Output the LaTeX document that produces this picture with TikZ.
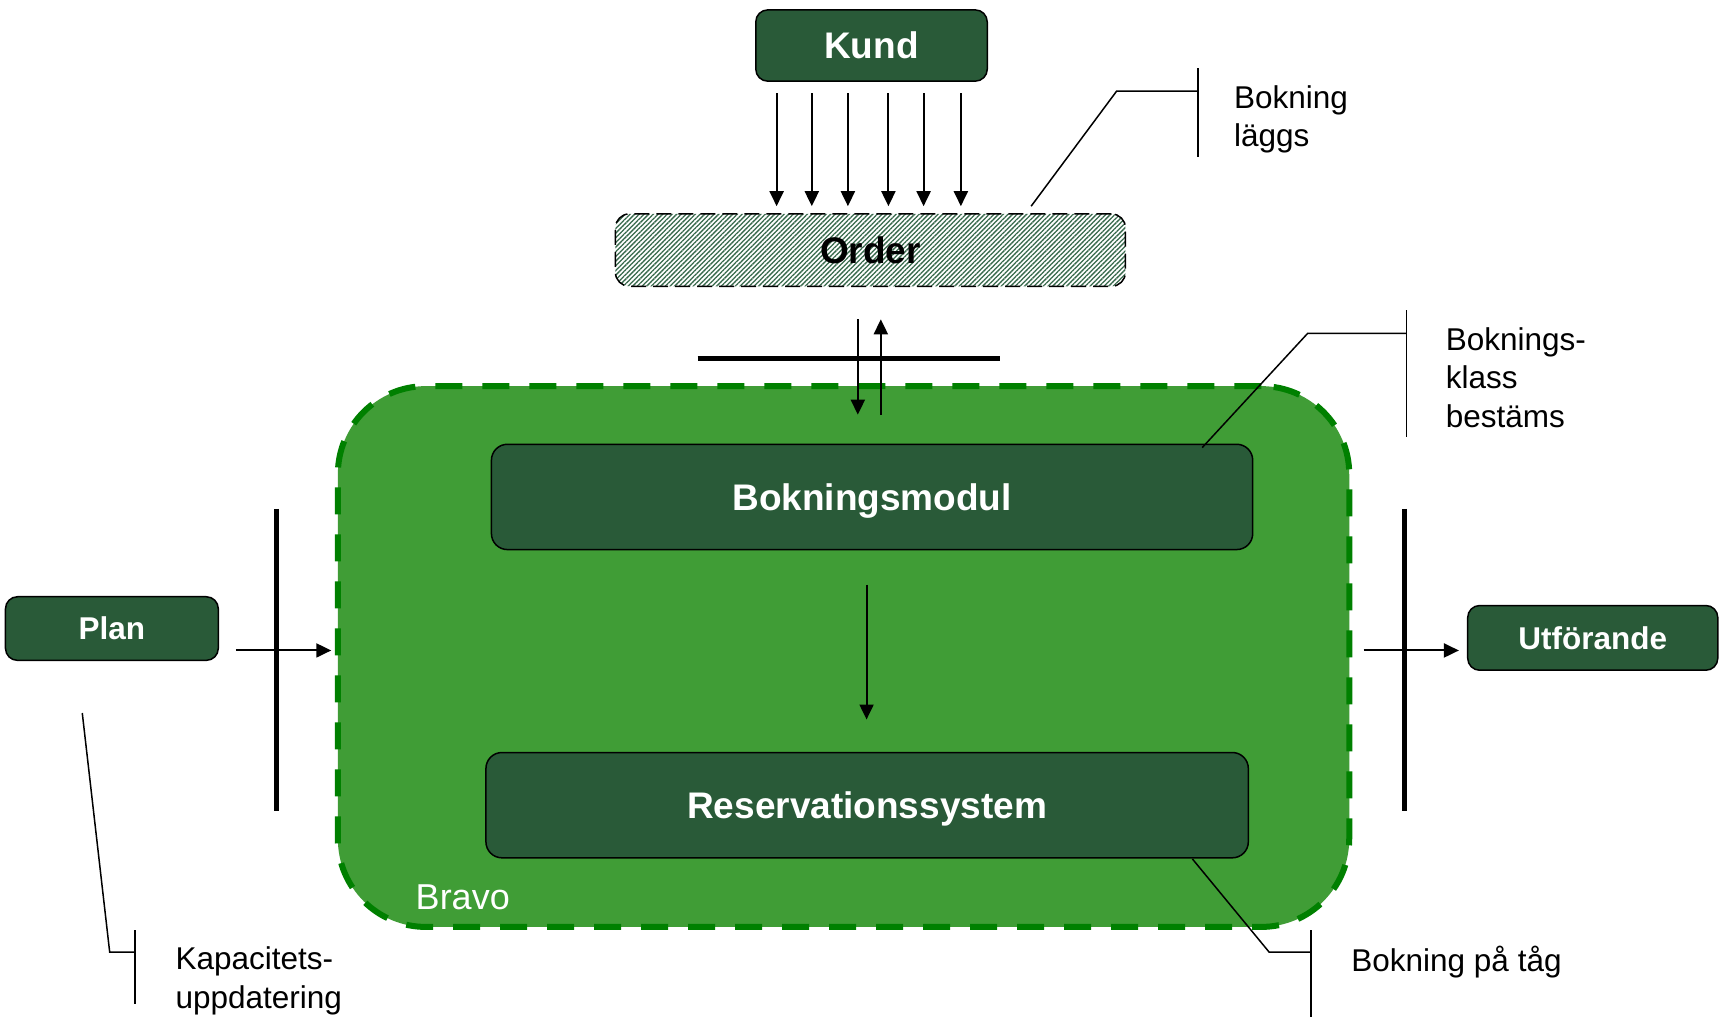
\documentclass[tikz,border=0pt]{standalone}
\usepackage{fontspec}
\setmainfont{Liberation Sans}
\usetikzlibrary{arrows.meta,calc,patterns.meta}
\definecolor{dkgreen}{RGB}{41,90,56}
\definecolor{bravofill}{RGB}{64,157,54}
\definecolor{bravoline}{RGB}{0,128,0}
\definecolor{hatch}{RGB}{55,105,75}
\begin{document}
\begin{tikzpicture}[x=1.097pt,y=-1.097pt,
  every node/.style={outer sep=0pt},
  sz/.style 2 args={minimum width=#1*1.097pt, minimum height=#2*1.097pt},
  box/.style={draw=black, line width=1.5pt, fill=dkgreen, rounded corners=12pt, inner sep=0pt, text=white, text height=26.6pt, text depth=0pt, font=\fontsize{37}{44}\selectfont\bfseries},
  smallbox/.style={box, text height=22.7pt, font=\fontsize{31.5}{38}\selectfont\bfseries},
  arr/.style={line width=2pt, -{Triangle[length=15pt,width=14pt]}},
  gatebar/.style={line width=5pt},
  callout/.style={line width=1.5pt},
  lbl/.style={anchor=west, align=left, inner sep=0pt, font=\fontsize{31.5}{38.4}\selectfont}
]
\useasboundingbox[fill=white] (0,0) rectangle (1568,927);

% Bravo container
\node[sz={922}{493}, inner sep=0pt, fill=bravofill, draw=bravoline, line width=6pt, dash pattern=on 27pt off 20pt, rounded corners=88pt] (bravo) at (769,598.5) {};
\node[anchor=west, inner sep=0pt, text=white, font=\fontsize{36}{40}\selectfont] (bravolbl) at (379,818) {Bravo};

% boxes
\node[box, sz={211}{65}] (kund) at (794.5,41.5) {Kund};
\node[draw=black, line width=1.5pt, dash pattern=on 15pt off 7pt, rounded corners=14pt,
  pattern={Lines[angle=45,distance=3.3pt,line width=1.3pt]}, pattern color=hatch,
  sz={465}{66}, inner sep=0pt, text height=26.6pt, text depth=0pt, font=\fontsize{37}{44}\selectfont\bfseries] (order) at (793.5,228) {Order};
\node[box, rounded corners=16pt, sz={694}{96}] (boks) at (795,453) {Bokningsmodul};
\node[box, rounded corners=16pt, sz={695}{96}] (res) at (790.5,734) {Reservationssystem};
\node[smallbox, sz={194}{58}] (plan) at (102,573) {Plan};
\node[smallbox, sz={228}{59}] (utf) at (1452,581.5) {Utförande};

% Kund -> Order arrows
\foreach \f [count=\i] in {0.09,0.242,0.398,0.573,0.725,0.886} {
  \coordinate (ka\i) at ($(kund.south west)!\f!(kund.south east)$);
  \draw[arr, shorten <=12pt, shorten >=7.7pt] (ka\i) -- (ka\i |- order.north);
}

% Order <-> Bravo
\coordinate (od) at ([xshift=-12.6pt]order.south);
\coordinate (ou) at ([xshift=10.4pt]order.south);
\draw[arr, shorten <=33pt, shorten >=29.6pt] (od) -- (od |- boks.north);
\draw[arr, shorten <=29.6pt, shorten >=33pt] (ou |- boks.north) -- (ou);

% Bokningsmodul -> Reservationssystem
\coordinate (bm) at ([xshift=-5.5pt]boks.south);
\draw[arr, shorten <=35pt, shorten >=33pt] (bm) -- (bm |- res.north);

% Plan -> Bravo
\coordinate (pa) at ([yshift=-21.9pt]plan.east);
\draw[arr, shorten <=17.5pt, shorten >=6.6pt] (pa) -- (pa -| bravo.west);

% Bravo -> Utforande
\coordinate (ua) at ([yshift=-12.6pt]utf.west);
\draw[arr, shorten <=14.3pt, shorten >=8.8pt] (ua -| bravo.east) -- (ua);

% gate bars
\draw[gatebar, line width=4.5pt] (636,327) -- (912,327);
\draw[gatebar] (252,464) -- (252,739);
\draw[gatebar] (1280,464) -- (1280,739);

% callouts
\draw[callout] (940,188) -- (1018,83) -- (1092,83);
\draw[callout] (1092,62) -- (1092,143);
\node[lbl] (t1) at (1125,109) {Bokning\\läggs};

\draw[callout] (1096,408) -- (1192,304) -- (1282,304);
\draw[callout] (1282,283) -- (1282,398);
\node[lbl] (t2) at (1318,344) {Boknings-\\klass\\bestäms};

\draw[callout] (75,650) -- (100,868) -- (123,868);
\draw[callout] (123,848) -- (123,915);
\node[lbl] (t3) at (160,894) {Kapacitets-\\uppdatering};

\draw[callout] (1087,783) -- (1157,868) -- (1195,868);
\draw[callout] (1195,848) -- (1195,927);
\node[lbl] (t4) at (1232,877) {Bokning på tåg};
\end{tikzpicture}
\end{document}
